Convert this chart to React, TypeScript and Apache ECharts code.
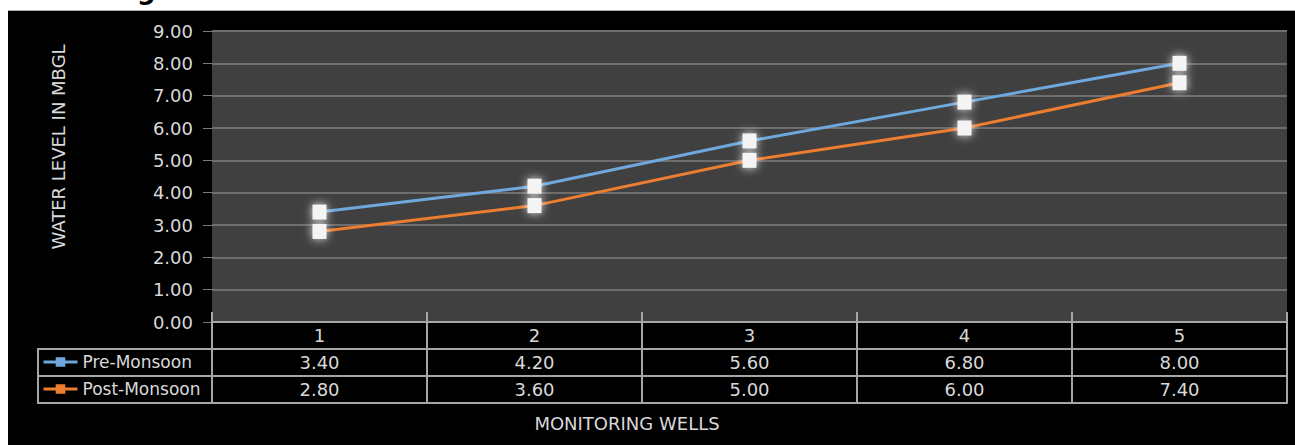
import React, { useEffect, useRef } from "react";
import * as echarts from "echarts";

const wells = ["1", "2", "3", "4", "5"];
const preMonsoon = [3.4, 4.2, 5.6, 6.8, 8.0];
const postMonsoon = [2.8, 3.6, 5.0, 6.0, 7.4];
const yTicks = { min: 0, max: 9, interval: 1 };
const seriesNames = ["Pre-Monsoon", "Post-Monsoon"];
const xTitle = "MONITORING WELLS";
const yTitle = "WATER LEVEL IN MBGL";

const FONT = "DejaVu Sans";
const FS = 18;
const TXT = "#d9d9d9";
const LINE = "#a6a6a6";
const BLUE = "#6fa8dc";
const ORANGE = "#ed7d31";

export default function App() {
  const ref = useRef<HTMLDivElement>(null);
  useEffect(() => {
    if (!ref.current) return;
    const chart = echarts.init(ref.current, undefined, { renderer: "svg" });
    const rowH = 27;
    const tableAxis = (offset: number, labels: string[] | null, tickLen: number) => ({
      type: "category",
      data: wells,
      position: "bottom",
      offset,
      boundaryGap: true,
      axisLine: { show: true, lineStyle: { color: LINE, width: 2 } },
      axisTick: { show: tickLen > 0, inside: true, length: tickLen, lineStyle: { color: LINE, width: 2 } },
      axisLabel: labels
        ? {
            show: true,
            margin: 4,
            color: TXT,
            fontFamily: FONT,
            fontSize: FS,
            formatter: (_v: string, i: number) => labels[i],
          }
        : { show: false },
      splitLine: { show: false },
    });
    const markerStyle = {
      color: "#f4f4f4",
      borderWidth: 0,
      shadowBlur: 10,
      shadowColor: "rgba(255,255,255,0.9)",
    };
    const legendCommon = {
      itemWidth: 34,
      itemHeight: 12,
      itemGap: 0,
      padding: 0,
      textStyle: { color: TXT, fontFamily: FONT, fontSize: 17, lineHeight: 20 },
    };
    chart.setOption({
      animation: false,
      backgroundColor: "#ffffff",
      grid: {
        left: 212,
        right: 8,
        top: 31,
        bottom: 123,
        show: true,
        backgroundColor: "#404040",
        borderWidth: 0,
      },
      xAxis: [
        tableAxis(0, wells, 10),
        tableAxis(rowH, preMonsoon.map((v) => v.toFixed(2)), rowH),
        tableAxis(rowH * 2, postMonsoon.map((v) => v.toFixed(2)), rowH),
        tableAxis(rowH * 3, null, rowH),
      ],
      yAxis: {
        type: "value",
        min: yTicks.min,
        max: yTicks.max,
        interval: yTicks.interval,
        axisLine: { show: false },
        axisTick: { show: true, length: 9, lineStyle: { color: "#7a7a7a", width: 1 } },
        axisLabel: {
          color: TXT,
          fontFamily: FONT,
          fontSize: FS,
          margin: 19,
          formatter: (v: number) => v.toFixed(2),
        },
        splitLine: { show: true, lineStyle: { color: "#6e6e6e", width: 2 } },
      },
      legend: [
        {
          ...legendCommon,
          data: [{ name: seriesNames[0], itemStyle: { color: BLUE }, lineStyle: { color: BLUE, width: 3 } }],
          left: 42,
          top: 352,
        },
        {
          ...legendCommon,
          data: [{ name: seriesNames[1], itemStyle: { color: ORANGE }, lineStyle: { color: ORANGE, width: 3 } }],
          left: 42,
          top: 379,
        },
      ],
      series: [
        {
          name: seriesNames[1],
          type: "line",
          data: postMonsoon,
          xAxisIndex: 0,
          symbol: "rect",
          symbolSize: [14, 15],
          lineStyle: { color: ORANGE, width: 3 },
          itemStyle: markerStyle,
          z: 3,
        },
        {
          name: seriesNames[0],
          type: "line",
          data: preMonsoon,
          xAxisIndex: 0,
          symbol: "rect",
          symbolSize: [14, 15],
          lineStyle: { color: BLUE, width: 3 },
          itemStyle: markerStyle,
          z: 4,
        },
      ],
      graphic: [
        { type: "rect", z: -10, shape: { x: 8, y: 11, width: 1287, height: 434 }, style: { fill: "#000000" } },
        { type: "line", z: -9, shape: { x1: 8, y1: 10.5, x2: 1295, y2: 10.5 }, style: { stroke: "#b0b0b0", lineWidth: 1 } },
        {
          type: "text",
          x: 137,
          y: 3,
          style: { text: "g", fill: "#000", font: "bold 26px " + FONT, textAlign: "left", textVerticalAlign: "bottom" },
        },
        {
          type: "rect",
          shape: { x: 38, y: 349, width: 174, height: 54 },
          style: { fill: "none", stroke: LINE, lineWidth: 2 },
        },
        { type: "line", shape: { x1: 38, y1: 376, x2: 212, y2: 376 }, style: { stroke: LINE, lineWidth: 2 } },
        {
          type: "text",
          x: 58,
          y: 147,
          rotation: Math.PI / 2,
          style: {
            text: yTitle,
            fill: TXT,
            font: FS + "px " + FONT,
            textAlign: "center",
            textVerticalAlign: "middle",
          },
        },
        {
          type: "text",
          x: 627,
          y: 423,
          style: { text: xTitle, fill: TXT, font: FS + "px " + FONT, textAlign: "center", textVerticalAlign: "middle" },
        },
      ],
    });
    return () => chart.dispose();
  }, []);
  return (
    <div
      ref={ref}
      style={{ position: "absolute", left: 0, top: 0, width: 1295, height: 445 }}
    />
  );
}
